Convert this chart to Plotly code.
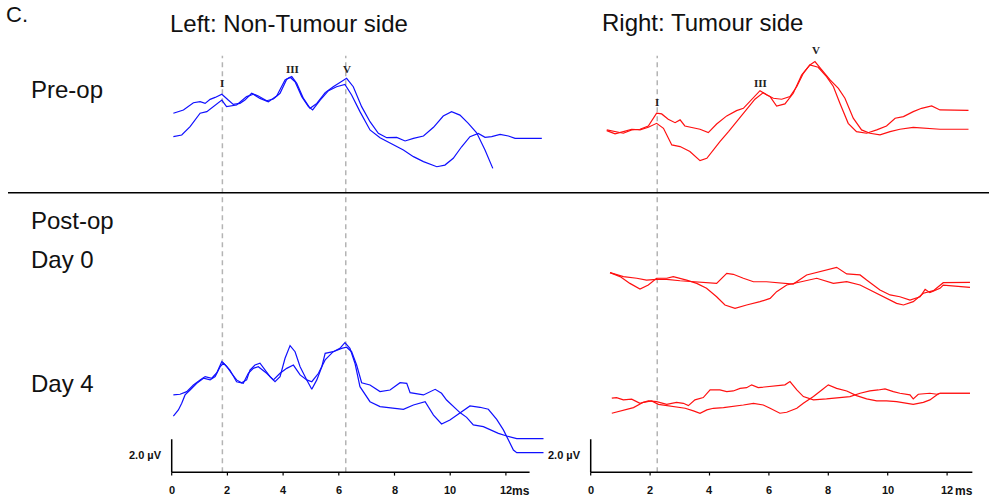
import numpy as np
import plotly.graph_objects as go

# ---------------- data (ms, µV relative to each row's baseline) ----------------
TICKS_MS = [0, 2, 4, 6, 8, 10, 12]
TICK_LABELS = ["0", "2", "4", "6", "8", "10", "12"]
AXIS_END_MS = 12.85
SCALE_BAR_UV = 2.0

LEFT_DASH_MS = [1.82, 6.25]
RIGHT_DASH_MS = [2.24]

# Left, Pre-op
left_pre_a_ms = [0.06, 0.42, 0.78, 1.02, 1.20, 1.38, 1.56, 1.80, 2.03, 2.21, 2.45, 2.63, 2.87, 3.11, 3.41, 3.65,
                 3.89, 4.13, 4.31, 4.49, 4.73, 4.97, 5.21, 5.51, 5.80, 6.10, 6.28, 6.52, 6.82, 7.12, 7.42, 7.72,
                 8.08, 8.38, 8.68, 9.04, 9.40, 9.75, 10.05, 10.35, 10.65, 10.95, 11.25, 11.53]
left_pre_a_uv = [1.52, 1.72, 2.16, 2.22, 2.12, 2.36, 2.48, 2.67, 2.32, 2.06, 2.12, 2.32, 2.73, 2.57, 2.28, 2.38,
                 2.73, 3.58, 3.74, 3.33, 2.42, 1.82, 2.12, 2.77, 3.13, 3.43, 3.64, 3.13, 1.92, 1.01, 0.30, 0.04,
                 0.06, -0.16, 0.00, 0.14, 0.67, 1.35, 1.62, 1.41, 0.91, 0.34, -0.71, -1.82]
left_pre_b_ms = [0.06, 0.36, 0.66, 1.02, 1.26, 1.50, 1.80, 1.97, 2.33, 2.69, 2.93, 3.17, 3.47, 3.77, 4.07, 4.25,
                 4.43, 4.67, 4.91, 5.06, 5.33, 5.63, 5.92, 6.22, 6.46, 6.76, 7.12, 7.48, 7.84, 8.32, 8.68, 9.04,
                 9.52, 9.81, 10.11, 10.41, 10.71, 11.01, 11.25, 11.49, 11.79, 12.09, 12.33, 13.29]
left_pre_b_uv = [0.10, 0.20, 0.71, 1.52, 1.62, 1.92, 2.32, 1.92, 2.02, 2.53, 2.67, 2.42, 2.22, 2.57, 3.54, 3.70,
                 3.43, 2.53, 1.92, 1.72, 2.32, 2.89, 3.13, 3.27, 2.63, 1.62, 0.51, 0.04, -0.30, -0.71, -1.11, -1.41,
                 -1.72, -1.62, -1.21, -0.51, 0.10, 0.30, 0.06, 0.10, 0.24, 0.14, 0.00, 0.00]

# Right, Pre-op
right_pre_a_ms = [0.54, 0.82, 1.10, 1.38, 1.66, 1.94, 2.22, 2.39, 2.61, 2.84, 3.01, 3.17, 3.40, 3.68, 3.96, 4.24,
                  4.58, 4.91, 5.14, 5.42, 5.70, 5.93, 6.15, 6.43, 6.71, 6.94, 7.16, 7.38, 7.55, 7.78, 8.06, 8.34,
                  8.56, 8.84, 9.12, 9.40, 9.74, 10.08, 10.41, 10.86, 11.31, 11.65, 11.76, 12.72]
right_pre_a_uv = [-0.04, -0.14, -0.24, -0.04, 0.00, 0.20, 0.97, 0.93, 0.61, 0.40, 0.57, 0.20, 0.12, 0.00, -0.20, 0.32,
                  0.81, 1.13, 1.27, 1.78, 2.34, 2.08, 1.88, 1.82, 1.98, 2.59, 3.39, 3.90, 4.10, 3.60, 2.99, 2.48,
                  1.88, 0.67, -0.04, -0.24, -0.34, -0.14, 0.00, 0.12, 0.04, 0.00, 0.00, 0.00]
right_pre_b_ms = [0.54, 0.82, 1.10, 1.38, 1.66, 1.94, 2.22, 2.45, 2.73, 3.01, 3.34, 3.68, 3.91, 4.13, 4.35, 4.64,
                  4.91, 5.25, 5.53, 5.81, 6.04, 6.26, 6.54, 6.82, 7.10, 7.38, 7.66, 7.94, 8.17, 8.39, 8.67, 8.95,
                  9.29, 9.63, 9.96, 10.25, 10.53, 10.86, 11.14, 11.48, 11.76, 12.72]
right_pre_b_uv = [-0.08, -0.28, -0.14, 0.00, -0.04, 0.12, 0.36, 0.06, -0.95, -1.05, -1.35, -1.90, -1.76, -1.25, -0.75, -0.14,
                  0.46, 1.27, 1.82, 2.22, 1.98, 1.41, 1.54, 2.18, 3.29, 3.90, 3.76, 3.19, 2.59, 1.58, 0.36, -0.14,
                  -0.24, -0.04, 0.20, 0.67, 0.77, 1.07, 1.27, 1.41, 1.17, 1.15]

# Right, Post-op Day 0
right_d0_a_ms = [0.65, 0.99, 1.32, 1.66, 1.94, 2.22, 2.56, 2.78, 3.23, 3.57, 3.90, 4.24, 4.52, 4.86, 5.25, 5.70,
                 6.04, 6.26, 6.60, 7.05, 7.61, 8.17, 8.62, 9.07, 9.52, 9.97, 10.30, 10.53, 10.86, 11.20, 11.54, 11.87, 12.77]
right_d0_a_uv = [0.89, 0.65, 0.24, -0.10, 0.14, 0.55, 0.55, 0.65, 0.44, 0.24, -0.06, -0.57, -1.07, -1.27, -1.07, -0.87,
                 -0.67, -0.26, 0.14, 0.34, 0.55, 0.24, 0.34, 0.14, -0.26, -0.67, -0.97, -1.07, -0.87, -0.36, -0.20, 0.28, 0.30]
right_d0_b_ms = [0.65, 1.10, 1.55, 1.88, 2.22, 2.56, 3.01, 3.46, 3.90, 4.24, 4.58, 4.80, 5.14, 5.48, 5.92, 6.37,
                 6.82, 7.27, 7.72, 8.28, 8.62, 9.07, 9.29, 9.74, 10.08, 10.41, 10.75, 11.09, 11.26, 11.42, 11.76, 11.87, 12.77]
right_d0_b_uv = [0.89, 0.65, 0.55, 0.44, 0.48, 0.48, 0.40, 0.34, 0.30, 0.24, 0.85, 0.79, 0.55, 0.34, 0.34, 0.28,
                 0.20, 0.75, 0.95, 1.21, 0.81, 0.75, 0.44, -0.16, -0.46, -0.57, -0.77, -0.57, -0.12, -0.32, -0.06, 0.14, 0.00]

# Left, Post-op Day 4
left_d4_a_ms = [0.06, 0.30, 0.54, 0.78, 1.02, 1.20, 1.44, 1.62, 1.80, 1.97, 2.15, 2.33, 2.51, 2.69, 2.81, 2.99,
                3.17, 3.35, 3.53, 3.71, 3.89, 4.07, 4.25, 4.43, 4.61, 4.85, 5.03, 5.21, 5.39, 5.51, 5.80, 6.04,
                6.22, 6.40, 6.58, 6.76, 7.12, 7.48, 7.96, 8.32, 8.68, 9.10, 9.40, 9.69, 9.99, 10.35, 10.71, 11.07,
                11.37, 11.67, 11.91, 12.27, 12.39, 13.35]
left_d4_a_uv = [2.65, 2.69, 2.85, 3.25, 3.56, 3.76, 3.66, 4.00, 4.67, 4.40, 3.96, 3.56, 3.39, 3.56, 4.16, 4.46,
                4.57, 4.16, 3.76, 3.45, 3.76, 4.87, 5.64, 5.27, 4.36, 3.56, 2.99, 3.56, 4.36, 5.17, 5.27, 5.47,
                5.82, 5.47, 4.57, 3.15, 2.24, 1.94, 1.84, 1.78, 2.04, 2.24, 1.43, 0.89, 1.13, 1.54, 1.98, 1.90,
                1.78, 1.17, 0.53, -0.69, -0.85, -0.85]
left_d4_b_ms = [0.06, 0.24, 0.36, 0.48, 0.66, 0.90, 1.14, 1.38, 1.56, 1.74, 1.86, 2.09, 2.33, 2.57, 2.75, 2.93,
                3.11, 3.41, 3.65, 3.89, 4.13, 4.37, 4.61, 4.85, 5.03, 5.27, 5.51, 5.80, 6.10, 6.28, 6.46, 6.64,
                6.82, 7.12, 7.48, 7.84, 8.20, 8.44, 8.56, 9.04, 9.46, 9.69, 9.87, 10.11, 10.35, 10.59, 10.83, 11.19,
                11.43, 11.73, 12.03, 12.39, 13.35]
left_d4_b_uv = [1.37, 1.74, 2.14, 2.65, 2.95, 3.35, 3.66, 3.56, 3.76, 4.36, 4.57, 4.16, 3.45, 3.35, 3.96, 4.26,
                4.36, 3.96, 3.56, 3.96, 4.26, 4.46, 3.86, 3.56, 3.45, 3.96, 4.77, 5.27, 5.47, 5.54, 5.27, 4.46,
                3.39, 3.25, 2.85, 2.95, 3.39, 3.35, 2.79, 2.65, 2.99, 2.75, 2.34, 1.94, 1.58, 1.29, 0.83, 0.73,
                0.53, 0.32, 0.16, 0.00, 0.00]

# Right, Post-op Day 4
right_d4_a_ms = [0.71, 0.87, 1.10, 1.38, 1.66, 1.94, 2.22, 2.56, 2.89, 3.12, 3.29, 3.51, 3.79, 4.02, 4.35, 4.58,
                 4.80, 5.03, 5.25, 5.42, 5.64, 5.93, 6.26, 6.54, 6.71, 6.94, 7.16, 7.50, 7.94, 8.39, 8.73, 9.07,
                 9.40, 9.68, 9.91, 10.19, 10.41, 10.75, 10.86, 11.03, 11.42, 11.65, 11.76, 12.77]
right_d4_a_uv = [-0.30, -0.26, -0.40, -0.36, -0.61, -0.46, -0.51, -0.67, -0.55, -0.61, -0.75, -0.40, -0.26, 0.20, 0.20, 0.10,
                 0.14, 0.30, 0.34, 0.51, 0.34, 0.40, 0.44, 0.51, 0.71, 0.20, -0.20, -0.40, -0.34, -0.26, -0.20, 0.00,
                 0.14, 0.20, 0.26, 0.10, 0.00, -0.10, -0.34, -0.06, 0.00, -0.06, 0.00, 0.00]
right_d4_b_ms = [0.71, 0.99, 1.44, 1.77, 2.05, 2.28, 2.56, 2.89, 3.18, 3.46, 3.68, 3.91, 4.13, 4.47, 4.80, 5.14,
                 5.48, 5.81, 6.04, 6.37, 6.60, 6.94, 7.16, 7.50, 7.78, 8.00, 8.28, 8.62, 8.95, 9.29, 9.63, 9.96,
                 10.30, 10.64, 10.86, 11.20, 11.42, 11.65, 11.76, 12.77]
right_d4_b_uv = [-1.21, -1.07, -0.87, -0.55, -0.46, -0.67, -0.75, -0.81, -0.91, -1.07, -1.21, -1.01, -0.91, -0.87, -0.81, -0.71,
                 -0.61, -0.71, -0.91, -1.21, -1.15, -0.91, -0.61, -0.20, 0.20, 0.51, 0.30, 0.14, -0.14, -0.34, -0.46, -0.46,
                 -0.51, -0.61, -0.67, -0.55, -0.40, -0.10, 0.00, 0.00]

# wave labels: (text, latency ms, height µV)
LEFT_WAVES = [("I", 1.82, 23.61), ("III", 4.34, 24.44), ("V", 6.28, 24.46)]
RIGHT_WAVES = [("I", 2.22, 22.42), ("III", 5.72, 23.61), ("V", 7.58, 25.59)]

# ---------------- layout / positions ----------------
ROW_OFFSET = {"left_pre": 20.24, "right_pre": 20.79, "right_d0": 11.21, "left_d4": 2.04, "right_d4": 4.79}
DASH_TOP = 25.25
BLUE = "#1010ff"
RED = "#ff1010"
LW = 1.2

fig = go.Figure()


def add_trace(xs, ys, off, color, axis):
    fig.add_trace(go.Scatter(x=xs, y=np.array(ys) + off, mode="lines",
                             line=dict(color=color, width=LW),
                             xaxis=axis[0], yaxis=axis[1], showlegend=False, hoverinfo="skip"))


LAX = ("x", "y")
RAX = ("x2", "y2")
add_trace(left_pre_a_ms, left_pre_a_uv, ROW_OFFSET["left_pre"], BLUE, LAX)
add_trace(left_pre_b_ms, left_pre_b_uv, ROW_OFFSET["left_pre"], BLUE, LAX)
add_trace(left_d4_a_ms, left_d4_a_uv, ROW_OFFSET["left_d4"], BLUE, LAX)
add_trace(left_d4_b_ms, left_d4_b_uv, ROW_OFFSET["left_d4"], BLUE, LAX)
add_trace(right_pre_a_ms, right_pre_a_uv, ROW_OFFSET["right_pre"], RED, RAX)
add_trace(right_pre_b_ms, right_pre_b_uv, ROW_OFFSET["right_pre"], RED, RAX)
add_trace(right_d0_a_ms, right_d0_a_uv, ROW_OFFSET["right_d0"], RED, RAX)
add_trace(right_d0_b_ms, right_d0_b_uv, ROW_OFFSET["right_d0"], RED, RAX)
add_trace(right_d4_a_ms, right_d4_a_uv, ROW_OFFSET["right_d4"], RED, RAX)
add_trace(right_d4_b_ms, right_d4_b_uv, ROW_OFFSET["right_d4"], RED, RAX)

shapes = []
annotations = []
AX_FONT = dict(family="Liberation Sans, Arial", size=11, color="#111", weight="bold")

for xr, yr, dashes in (("x", "y", LEFT_DASH_MS), ("x2", "y2", RIGHT_DASH_MS)):
    for d in dashes:
        shapes.append(dict(type="line", xref=xr, yref=yr, x0=d, x1=d, y0=0, y1=DASH_TOP,
                           line=dict(color="#b4b4b4", width=1.5, dash="5px,4px"), layer="below"))
    # time axis line + scale bar
    shapes.append(dict(type="line", xref=xr, yref=yr, x0=0, x1=AXIS_END_MS, y0=0, y1=0,
                       line=dict(color="black", width=1.5)))
    shapes.append(dict(type="line", xref=xr, yref=yr, x0=0, x1=0, y0=0, y1=SCALE_BAR_UV,
                       line=dict(color="black", width=1.5)))
    for t, lab in zip(TICKS_MS, TICK_LABELS):
        shapes.append(dict(type="line", xref=xr, yref=yr, x0=t, x1=t, y0=0, y1=-0.2,
                           line=dict(color="black", width=1.2)))
        annotations.append(dict(x=t, y=0, xref=xr, yref=yr, text=lab, showarrow=False,
                                yanchor="middle", yshift=-18, font=AX_FONT))
    annotations.append(dict(x=12.56, y=0, xref=xr, yref=yr, text="ms", showarrow=False,
                            yanchor="middle", yshift=-19,
                            font=dict(family="Liberation Sans, Arial", size=12, color="#111", weight="bold")))
    annotations.append(dict(x=0, y=1.05, xref=xr, yref=yr, text="2.0 µV", showarrow=False,
                            xanchor="right", xshift=-8, yanchor="middle", font=AX_FONT))

WAVE_FONT = dict(family="Liberation Serif, Times New Roman", size=11, color="#222", weight="bold")
for xr, yr, waves in (("x", "y", LEFT_WAVES), ("x2", "y2", RIGHT_WAVES)):
    for txt, ms, h in waves:
        annotations.append(dict(x=ms, y=h, xref=xr, yref=yr, text=txt, showarrow=False,
                                yanchor="middle", font=WAVE_FONT))

# separator line between pre-op and post-op
shapes.append(dict(type="line", xref="paper", yref="paper", x0=8 / 989, x1=1.0, y0=0.613, y1=0.613,
                   line=dict(color="black", width=1.3)))

LBL_FONT = dict(family="Liberation Sans, Arial", size=24, color="#111")
W, H = 989, 498


def px(xp, yp):
    return xp / W, (H - yp) / H


for txt, xp, yp in (("Left: Non-Tumour side", 168, 23.3), ("Right: Tumour side", 600, 22.5),
                    ("Pre-op", 29, 89), ("Post-op", 29, 221), ("Day 0", 29, 259.5), ("Day 4", 29, 383)):
    x, y = px(xp, yp)
    annotations.append(dict(x=x, y=y, xref="paper", yref="paper", text=txt, showarrow=False,
                            xanchor="left", yanchor="middle", font=LBL_FONT))
x, y = px(4, 0)
annotations.append(dict(x=x, y=y, xref="paper", yref="paper", text="C.", showarrow=False,
                        xanchor="left", yanchor="top",
                        font=dict(family="Liberation Sans, Arial", size=22, color="#111")))

hidden = dict(visible=False, showgrid=False, zeroline=False, fixedrange=True)
fig.update_layout(
    width=W, height=H, autosize=False,
    margin=dict(l=0, r=0, t=0, b=0),
    paper_bgcolor="white", plot_bgcolor="white",
    xaxis=dict(domain=[0.16235, 0.55658], range=[-0.4, 13.6], **hidden),
    yaxis=dict(domain=[0.0019, 0.92962], range=[-1.5, 26.5], **hidden),
    xaxis2=dict(domain=[0.58526, 0.98767], range=[-0.4, 13.0], **hidden),
    yaxis2=dict(domain=[0.0019, 0.92962], range=[-1.5, 26.5], anchor="x2", **hidden),
    shapes=shapes, annotations=annotations, showlegend=False,
)
fig.write_html("out.html")
